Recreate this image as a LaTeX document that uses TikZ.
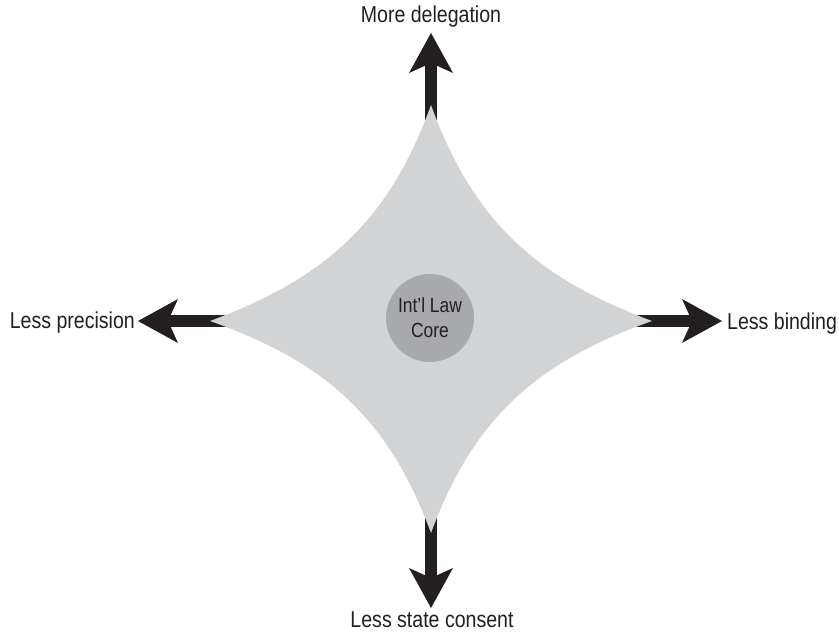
\documentclass[tikz,border=0pt]{standalone}
\usepackage{fontspec}
\setmainfont{Liberation Sans}[FakeStretch=0.85]
\usetikzlibrary{arrows.meta,calc}
\definecolor{inkc}{RGB}{35,31,32}
\definecolor{starc}{RGB}{210,211,213}
\definecolor{corec}{RGB}{167,169,172}
\begin{document}
\begin{tikzpicture}[x=1pt,y=-1pt,
  lbl/.style={inner sep=0pt,text=inkc,font=\fontsize{23}{27}\selectfont},
  arr/.style={draw=inkc,line width=12pt,-{Stealth[length=40pt,width=44pt,inset=10pt,line width=0pt]}},
  corestyle/.style={circle,fill=corec,minimum size=88pt,inner sep=0pt,align=center,text=inkc,font=\fontsize{20.5}{25}\selectfont}]
\useasboundingbox (0,0) rectangle (839,634);
% key points
\coordinate (C) at (431,320);
\coordinate (T) at (431,105);
\coordinate (R) at (652,321);
\coordinate (B) at (431,533);
\coordinate (L) at (210,321);
\coordinate (Ti) at (431,140);
\coordinate (Ri) at (620,321);
\coordinate (Bi) at (431,500);
\coordinate (Li) at (240,321);
% labels
\node[lbl,anchor=base] (top) at (431,23) {More delegation};
\node[lbl,anchor=base east] (left) at (135,328) {Less precision};
\node[lbl,anchor=base west] (right) at (727,329) {Less binding};
\node[lbl,anchor=base] (bot) at (432,627) {Less state consent};
% arrow tips
\coordinate (tT) at (431,33);
\coordinate (tL) at (138,321);
\coordinate (tR) at (722,321);
\coordinate (tB) at (431,608);
\draw[arr] (Ti) -- (tT);
\draw[arr] (Li) -- (tL);
\draw[arr] (Ri) -- (tR);
\draw[arr] (Bi) -- (tB);
% star
\fill[starc] (T)
  .. controls ($(C)+(42,-99)$) and ($(C)+(105,-42)$) .. (R)
  .. controls ($(C)+(105,42)$) and ($(C)+(42,99)$) .. (B)
  .. controls ($(C)+(-42,99)$) and ($(C)+(-105,42)$) .. (L)
  .. controls ($(C)+(-105,-42)$) and ($(C)+(-42,-99)$) .. (T) -- cycle;
\node[corestyle] (core) at (430,318) {Int’l Law\\Core};
\end{tikzpicture}
\end{document}
